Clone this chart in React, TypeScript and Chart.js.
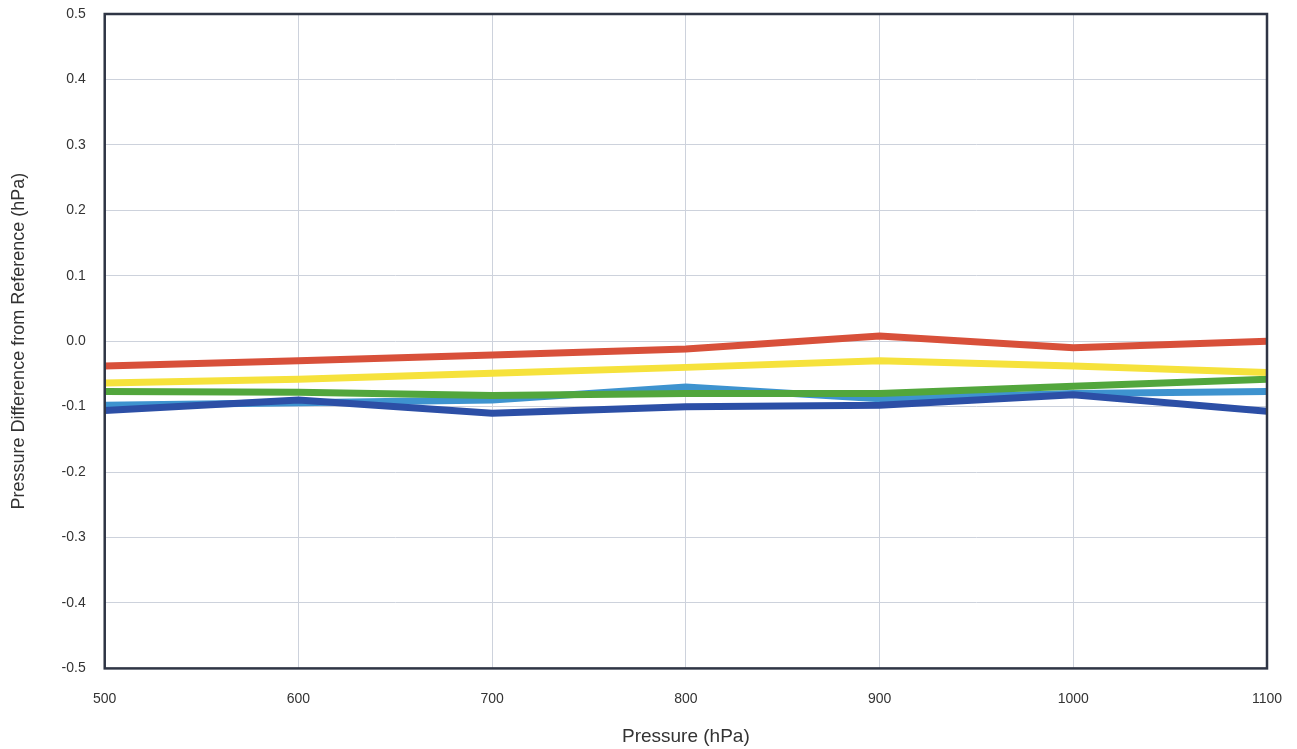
import React, { useEffect, useRef } from "react";
import { Chart, registerables } from "chart.js";

Chart.register(...registerables);

const pressures = [500, 600, 700, 800, 900, 1000, 1100];
const redSeries = [-0.038, -0.03, -0.021, -0.012, 0.008, -0.01, 0.0];
const yellowSeries = [-0.064, -0.058, -0.049, -0.04, -0.03, -0.038, -0.048];
const greenSeries = [-0.077, -0.078, -0.083, -0.08, -0.08, -0.069, -0.058];
const lightBlueSeries = [-0.098, -0.094, -0.09, -0.07, -0.088, -0.08, -0.077];
const darkBlueSeries = [-0.106, -0.09, -0.11, -0.1, -0.098, -0.082, -0.107];

const toPoints = (vals: number[]) => pressures.map((p, i) => ({ x: p, y: vals[i] }));

const frame = {
  id: "frame",
  afterDraw(chart: any) {
    const { ctx, chartArea } = chart;
    ctx.save();
    ctx.strokeStyle = "#2f3545";
    ctx.lineWidth = 2.5;
    ctx.strokeRect(chartArea.left, chartArea.top, chartArea.right - chartArea.left, chartArea.bottom - chartArea.top);
    ctx.restore();
  },
};

export default function App() {
  const ref = useRef<HTMLCanvasElement | null>(null);
  useEffect(() => {
    document.body.style.margin = "0";
    const mk = (label: string, vals: number[], color: string) => ({
      label,
      data: toPoints(vals),
      borderColor: color,
      backgroundColor: color,
      borderWidth: 7,
      pointRadius: 0,
      tension: 0,
      fill: false,
    });
    const chart = new Chart(ref.current!, {
      type: "line",
      data: {
        datasets: [
          mk("Red", redSeries, "#d8503a"),
          mk("Yellow", yellowSeries, "#f6e23c"),
          mk("Green", greenSeries, "#52a63c"),
          mk("Dark Blue", darkBlueSeries, "#2c4fa6"),
          mk("Light Blue", lightBlueSeries, "#3e93cf"),
        ],
      },
      options: {
        animation: false,
        responsive: false,
        maintainAspectRatio: false,
        layout: { padding: { top: 14, right: 30, left: 8, bottom: 0 } },
        plugins: { legend: { display: false }, tooltip: { enabled: false } },
        scales: {
          x: {
            type: "linear",
            min: 500,
            max: 1100,
            ticks: {
              stepSize: 100,
              color: "#333",
              font: { family: "Liberation Sans", size: 14 },
              padding: 0,
              callback: (v: any) => String(v),
            },
            grid: { color: "#cdd2dc", drawTicks: true, tickLength: 22, tickColor: "rgba(0,0,0,0)" },
            border: { display: false },
            title: {
              display: true,
              text: "Pressure (hPa)",
              color: "#333",
              font: { family: "Liberation Sans", size: 19 },
              padding: { top: 18, bottom: 1 },
            },
          },
          y: {
            min: -0.5,
            max: 0.5,
            ticks: {
              stepSize: 0.1,
              color: "#333",
              font: { family: "Liberation Sans", size: 14 },
              padding: 0,
              callback: (v: any) => Number(v).toFixed(1),
            },
            grid: { color: "#cdd2dc", drawTicks: true, tickLength: 19, tickColor: "rgba(0,0,0,0)" },
            border: { display: false },
            title: {
              display: true,
              text: "Pressure Difference from Reference (hPa)",
              color: "#333",
              font: { family: "Liberation Sans", size: 18 },
              padding: { top: 0, bottom: 32 },
            },
          },
        },
      },
      plugins: [frame],
    });
    return () => chart.destroy();
  }, []);
  return (
    <div style={{ width: 1297, height: 749, background: "#fff" }}>
      <canvas ref={ref} width={1297} height={749} style={{ display: "block" }} />
    </div>
  );
}
